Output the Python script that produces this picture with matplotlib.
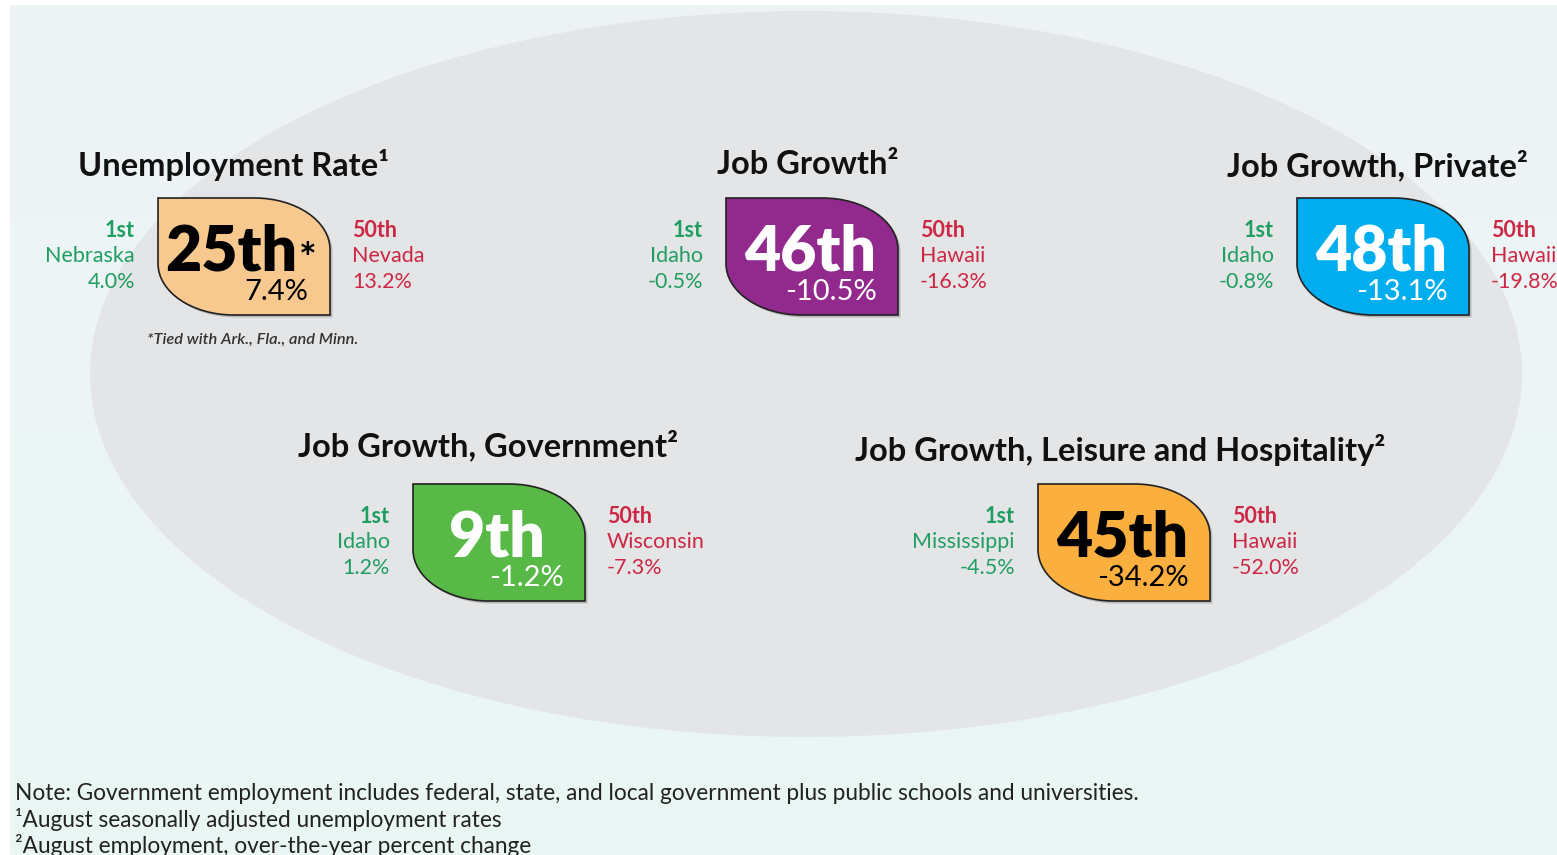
import numpy as np
import matplotlib.pyplot as plt
from matplotlib.path import Path
from matplotlib.patches import PathPatch, Ellipse
from matplotlib.colors import LinearSegmentedColormap

plt.rcParams['font.family'] = ['Lato', 'DejaVu Sans']

# state rankings by measure
titles = ["Unemployment Rate", "Job Growth", "Job Growth, Private",
          "Job Growth, Government", "Job Growth, Leisure and Hospitality"]
title_notes = ["\u00b9", "\u00b2", "\u00b2", "\u00b2", "\u00b2"]
ranks = ["25th", "46th", "48th", "9th", "45th"]
rank_marks = ["*", "", "", "", ""]
values = ["7.4%", "-10.5%", "-13.1%", "-1.2%", "-34.2%"]
best_states = ["Nebraska", "Idaho", "Idaho", "Idaho", "Mississippi"]
best_values = ["4.0%", "-0.5%", "-0.8%", "1.2%", "-4.5%"]
worst_states = ["Nevada", "Hawaii", "Hawaii", "Wisconsin", "Hawaii"]
worst_values = ["13.2%", "-16.3%", "-19.8%", "-7.3%", "-52.0%"]
tie_note = "*Tied with Ark., Fla., and Minn."
notes = ["Note: Government employment includes federal, state, and local government plus public schools and universities.",
         "\u00b9August seasonally adjusted unemployment rates",
         "\u00b2August employment, over-the-year percent change"]

# layout (pixel coordinates, y downwards)
badge_xy = [(158, 198), (726, 198), (1297, 198), (413, 484), (1038, 484)]
title_xy = [(234, 165), (808, 165), (1377, 165), (488, 445), (1120, 450)]
badge_colors = ["#F7C98F", "#922A8E", "#00AEEF", "#58B947", "#FBAF3F"]
rank_colors = ["black", "white", "white", "white", "black"]
BW, BH = 172, 117
GREEN, RED = "#1F9E62", "#CC2745"

fig = plt.figure(figsize=(15.57, 8.55), dpi=100)
fig.patch.set_facecolor("white")
ax = fig.add_axes([0, 0, 1, 1])
ax.set_xlim(0, 1557)
ax.set_ylim(855, 0)
ax.axis("off")

# pale backdrop with soft vertical tint
grad = np.linspace(0, 1, 256).reshape(-1, 1)
cmap = LinearSegmentedColormap.from_list("bg", ["#EEF3F6", "#EAF7F4"])
ax.imshow(grad, cmap=cmap, extent=(10, 1557, 855, 6), aspect="auto", zorder=0)
ax.add_patch(Ellipse((806, 374), 1432, 726, facecolor="#E4E5E7", edgecolor="none", zorder=1))


def badge_path(x, y, w, h):
    k = 0.5523
    ax1, ay1 = x + 0.56 * w, y
    bx1, by1 = x + w, y + 0.44 * h
    ax2, ay2 = x + 0.44 * w, y + h
    bx2, by2 = x, y + 0.56 * h
    verts = [(x, y), (ax1, ay1),
             (ax1 + k * (bx1 - ax1), ay1), (bx1, by1 - k * (by1 - ay1)), (bx1, by1),
             (x + w, y + h), (ax2, ay2),
             (ax2 - k * (ax2 - bx2), ay2), (bx2, by2 + k * (ay2 - by2)), (bx2, by2),
             (x, y)]
    codes = [Path.MOVETO, Path.LINETO,
             Path.CURVE4, Path.CURVE4, Path.CURVE4,
             Path.LINETO, Path.LINETO,
             Path.CURVE4, Path.CURVE4, Path.CURVE4,
             Path.CLOSEPOLY]
    return Path(verts, codes)


for i in range(len(titles)):
    bx, by = badge_xy[i]
    tx, ty = title_xy[i]

    ax.text(tx, ty, titles[i] + title_notes[i], ha="center", va="center",
            fontsize=23.5, fontweight="bold", color="#111111", zorder=5)

    ax.add_patch(PathPatch(badge_path(bx + 2.5, by + 2.5, BW, BH), facecolor="#9A9A9A",
                           edgecolor="none", alpha=0.6, zorder=3))
    ax.add_patch(PathPatch(badge_path(bx, by, BW, BH), facecolor=badge_colors[i],
                           edgecolor="#222222", linewidth=1.2, zorder=4))

    shift = -11 if rank_marks[i] else 0
    r = ax.text(bx + 0.49 * BW + shift, by + 72, ranks[i], ha="center", va="baseline",
                fontsize=45, fontweight="heavy", color=rank_colors[i], zorder=5)
    if rank_marks[i]:
        ax.annotate(rank_marks[i], xy=(1, 0.5), xycoords=r, xytext=(1, -7),
                    textcoords="offset points", ha="left", va="center",
                    fontsize=30, fontweight="bold", color=rank_colors[i], zorder=5)
    ax.text(bx + 0.875 * BW, by + 94, values[i], ha="right", va="center",
            fontsize=21, color=rank_colors[i], zorder=5)

    lx = bx - 23
    rx = bx + BW + 22
    ax.text(lx, by + 32, "1st", ha="right", va="center", fontsize=15.5,
            fontweight="bold", color=GREEN, zorder=5)
    ax.text(lx, by + 58, best_states[i], ha="right", va="center", fontsize=15.5, color=GREEN, zorder=5)
    ax.text(lx, by + 84, best_values[i], ha="right", va="center", fontsize=15.5, color=GREEN, zorder=5)
    ax.text(rx, by + 32, "50th", ha="left", va="center", fontsize=15.5,
            fontweight="bold", color=RED, zorder=5)
    ax.text(rx, by + 58, worst_states[i], ha="left", va="center", fontsize=15.5, color=RED, zorder=5)
    ax.text(rx, by + 84, worst_values[i], ha="left", va="center", fontsize=15.5, color=RED, zorder=5)

ax.text(253, 340, tie_note, ha="center", va="center", fontsize=11.8,
        style="italic", fontweight="semibold", color="#333333", zorder=5)

for j, line in enumerate(notes):
    ax.text(15, 793 + 26 * j, line, ha="left", va="center", fontsize=16.3,
            color="#222222", zorder=5)

fig.savefig("out.png", dpi=100, facecolor=fig.get_facecolor())
